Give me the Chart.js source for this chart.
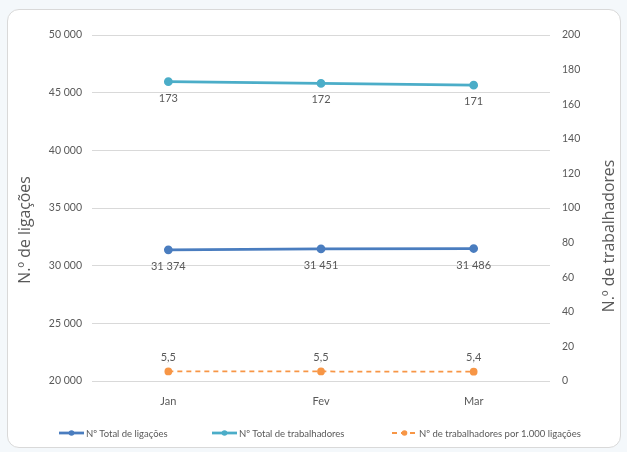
<!DOCTYPE html>
<html lang="pt">
<head>
<meta charset="utf-8">
<script src="https://cdn.jsdelivr.net/npm/chart.js@4.4.1/dist/chart.umd.min.js"></script>
<style>
  html, body { margin: 0; padding: 0; background: #f4f8fb; }
  body { width: 627px; height: 452px; position: relative; overflow: hidden; }
  .card {
    position: absolute; left: 7px; top: 9px; width: 612px; height: 437px;
    background: #ffffff; border: 1px solid #d9d9d9; border-radius: 12px;
  }
  #wrap { position: absolute; left: 0; top: 0; width: 627px; height: 452px; }
  .legend {
    position: absolute; top: 426px; left: 0; height: 14px;
    font-family: Lato, "Open Sans", sans-serif; font-size: 9.5px; color: #595959;
  }
  .legend .item { position: absolute; top: 0; white-space: nowrap; display: flex; align-items: center; height: 14px; }
  .legend svg { margin-right: 2px; }
</style>
</head>
<body>
<div class="card"></div>
<div id="wrap"><canvas id="chart" width="627" height="452"></canvas></div>
<div class="legend" id="legend"></div>
<script>
// Monthly figures, first quarter
const months = ['Jan', 'Fev', 'Mar'];
const totalLigacoes = [31374, 31451, 31486];
const totalTrabalhadores = [173, 172, 171];
const trabPorMilLigacoes = [5.5, 5.5, 5.4];

const seriesNames = [
  'Nº Total de ligações',
  'Nº Total de trabalhadores',
  'Nº de trabalhadores por 1.000 ligações'
];
const seriesColors = ['#4a7dbf', '#4badc8', '#f79646'];

const txt = '#595959';
const grid = '#d9d9d9';

// Portuguese grouping: space for thousands, comma for decimals
function fmtThousands(v) {
  return String(Math.round(v)).replace(/\B(?=(\d{3})+(?!\d))/g, ' ');
}
function fmtDecimal(v) {
  return v.toFixed(1).replace('.', ',');
}

// Value labels next to each point
const valueLabels = {
  id: 'valueLabels',
  afterDatasetsDraw(chart) {
    const ctx = chart.ctx;
    ctx.save();
    ctx.font = '11px Lato, "Open Sans", sans-serif';
    ctx.fillStyle = txt;
    ctx.textAlign = 'center';
    chart.data.datasets.forEach((ds, i) => {
      const meta = chart.getDatasetMeta(i);
      meta.data.forEach((pt, j) => {
        const label = ds.labelFormat(ds.data[j]);
        if (ds.labelPos === 'above') {
          ctx.textBaseline = 'bottom';
          ctx.fillText(label, pt.x, pt.y - 9);
        } else {
          ctx.textBaseline = 'top';
          ctx.fillText(label, pt.x, pt.y + 11);
        }
      });
    });
    ctx.restore();
  }
};

// Both axis titles read bottom-to-top
const axisTitles = {
  id: 'axisTitles',
  afterDraw(chart) {
    const ctx = chart.ctx;
    ctx.save();
    ctx.font = '15.8px "Open Sans", sans-serif';
    ctx.fillStyle = txt;
    ctx.textAlign = 'center';
    ctx.textBaseline = 'alphabetic';
    [[30, 230, 'N.º de ligações'], [614, 236, 'N.º de trabalhadores']].forEach(([x, y, t]) => {
      ctx.save();
      ctx.translate(x, y);
      ctx.rotate(-Math.PI / 2);
      ctx.fillText(t, 0, 0);
      ctx.restore();
    });
    ctx.restore();
  }
};

const datasets = [
  {
    label: seriesNames[0], data: totalLigacoes, yAxisID: 'y',
    borderColor: seriesColors[0], backgroundColor: seriesColors[0],
    borderWidth: 2.75, pointRadius: 3, pointHoverRadius: 3,
    labelPos: 'below', labelFormat: fmtThousands
  },
  {
    label: seriesNames[1], data: totalTrabalhadores, yAxisID: 'y1',
    borderColor: seriesColors[1], backgroundColor: seriesColors[1],
    borderWidth: 2.75, pointRadius: 3, pointHoverRadius: 3,
    labelPos: 'below', labelFormat: fmtThousands
  },
  {
    label: seriesNames[2], data: trabPorMilLigacoes, yAxisID: 'y1',
    borderColor: seriesColors[2], backgroundColor: seriesColors[2],
    borderWidth: 1.75, borderDash: [5, 4], pointRadius: 3, pointHoverRadius: 3,
    labelPos: 'above', labelFormat: fmtDecimal
  }
];

new Chart(document.getElementById('chart'), {
  type: 'line',
  data: { labels: months, datasets },
  options: {
    responsive: false,
    animation: false,
    layout: { padding: { left: 30, right: 23, top: 35, bottom: 43 } },
    plugins: {
      legend: { display: false },
      tooltip: { enabled: false }
    },
    scales: {
      x: {
        offset: true,
        grid: { display: false, drawTicks: false },
        border: { display: false },
        ticks: { color: txt, font: { family: 'Lato', size: 11 }, padding: 14 },
        afterFit(s) { s.height = 28; }
      },
      y: {
        position: 'left',
        min: 20000, max: 50000,
        ticks: {
          stepSize: 5000, color: txt, padding: 10,
          font: { family: 'Lato', size: 10.5 },
          callback: v => fmtThousands(v)
        },
        grid: { color: grid, drawTicks: false },
        border: { display: false },
        afterFit(s) { s.width = 62; }
      },
      y1: {
        position: 'right',
        min: 0, max: 200,
        ticks: {
          stepSize: 20, color: txt, padding: 12,
          font: { family: 'Lato', size: 10.5 }
        },
        grid: { display: false, drawTicks: false },
        border: { display: false },
        afterFit(s) { s.width = 54; }
      }
    }
  },
  plugins: [valueLabels, axisTitles]
});

// Legend row
const legendX = [59, 212, 392];
const legend = document.getElementById('legend');
datasets.forEach((ds, i) => {
  const item = document.createElement('div');
  item.className = 'item';
  item.style.left = legendX[i] + 'px';
  const dash = ds.borderDash ? ' stroke-dasharray="5 4"' : '';
  item.innerHTML =
    '<svg width="25" height="8" viewBox="0 0 25 8">' +
    '<line x1="0" y1="4" x2="25" y2="4" stroke="' + ds.borderColor + '" stroke-width="' +
    (ds.borderDash ? 2 : 2.75) + '"' + dash + '/>' +
    '<circle cx="12.5" cy="4" r="2.8" fill="' + ds.borderColor + '"/></svg>';
  const span = document.createElement('span');
  span.textContent = ds.label;
  item.appendChild(span);
  legend.appendChild(item);
});
</script>
</body>
</html>
